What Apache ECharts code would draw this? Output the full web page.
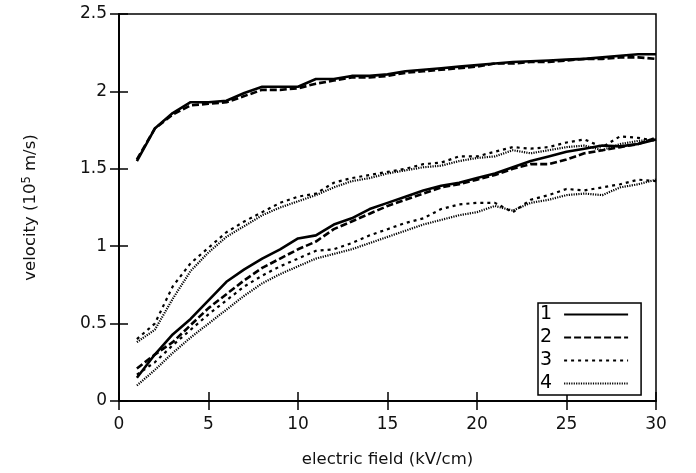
<!DOCTYPE html>
<html>
<head>
<meta charset="utf-8">
<script src="https://cdn.jsdelivr.net/npm/echarts@6/dist/echarts.min.js"></script>
<style>html,body{margin:0;padding:0;background:#fff}#c{width:696px;height:473px}</style>
</head>
<body>
<div id="c"></div>
<script>
var fieldX = [1,2,3,4,5,6,7,8,9,10,11,12,13,14,15,16,17,18,19,20,21,22,23,24,25,26,27,28,29,30];
var s1Upper = [1.55,1.76,1.86,1.93,1.93,1.94,1.99,2.03,2.03,2.03,2.08,2.08,2.10,2.10,2.11,2.13,2.14,2.15,2.16,2.17,2.18,2.19,2.195,2.20,2.205,2.21,2.22,2.23,2.24,2.24];
var s2Upper = [1.56,1.76,1.85,1.91,1.92,1.93,1.97,2.01,2.01,2.02,2.05,2.07,2.09,2.09,2.10,2.12,2.13,2.14,2.15,2.16,2.18,2.18,2.19,2.19,2.20,2.21,2.21,2.22,2.22,2.21];
var s1Lower = [0.15,0.30,0.43,0.53,0.65,0.77,0.85,0.92,0.98,1.05,1.07,1.14,1.18,1.24,1.28,1.32,1.36,1.39,1.41,1.44,1.47,1.51,1.55,1.58,1.61,1.63,1.65,1.645,1.66,1.69];
var s2Lower = [0.21,0.30,0.38,0.49,0.60,0.69,0.78,0.86,0.92,0.98,1.03,1.11,1.16,1.21,1.26,1.30,1.34,1.38,1.40,1.43,1.46,1.50,1.53,1.53,1.56,1.60,1.62,1.64,1.66,1.70];
var s3Upper = [0.40,0.50,0.74,0.89,0.99,1.09,1.16,1.22,1.28,1.32,1.34,1.41,1.44,1.46,1.48,1.50,1.53,1.54,1.58,1.58,1.61,1.64,1.63,1.64,1.67,1.69,1.64,1.71,1.70,1.68];
var s4Upper = [0.38,0.46,0.66,0.84,0.96,1.06,1.13,1.20,1.25,1.29,1.33,1.38,1.42,1.44,1.47,1.49,1.51,1.52,1.55,1.57,1.58,1.62,1.60,1.62,1.64,1.65,1.62,1.66,1.68,1.69];
var s3Lower = [0.17,0.25,0.36,0.46,0.56,0.65,0.74,0.81,0.87,0.92,0.97,0.98,1.02,1.07,1.11,1.15,1.18,1.24,1.27,1.28,1.28,1.22,1.30,1.33,1.37,1.36,1.38,1.40,1.43,1.42];
var s4Lower = [0.10,0.20,0.31,0.41,0.50,0.59,0.68,0.76,0.82,0.87,0.92,0.95,0.98,1.02,1.06,1.10,1.14,1.17,1.20,1.22,1.26,1.23,1.28,1.30,1.33,1.34,1.33,1.38,1.40,1.43];
var legendNames = ['1','2','3','4'];
var xTicks = {min:0, max:30, interval:5};
var yTicks = {min:0, max:2.5, interval:0.5};

function pairs(ys){ return fieldX.map(function(x,i){ return [x, ys[i]]; }); }
var styles = {
  '1': {type:'solid', width:2.6},
  '2': {type:[7,3], width:2.6},
  '3': {type:[3,4], width:2.2},
  '4': {type:[1.2,1.2], width:2.2}
};
function mk(name, ys){
  return {name:name, type:'line', data:pairs(ys), symbol:'none', showSymbol:false, smooth:false,
    lineStyle:{color:'#000', width:styles[name].width, type:styles[name].type},
    itemStyle:{color:'#000'}, animation:false, z: 3};
}
var font = '"DejaVu Sans", Verdana, sans-serif';
var chart = echarts.init(document.getElementById('c'), null, {renderer:'canvas'});
chart.setOption({
  backgroundColor:'#fff',
  animation:false,
  grid:{left:119, right:40, top:14, bottom:70, show:true, borderColor:'#000', borderWidth:1.5, backgroundColor:'transparent'},
  legend:{
    data:legendNames, orient:'vertical', left:538, top:303, align:'right',
    itemWidth:64, itemHeight:10, itemGap:4,
    borderColor:'#000', borderWidth:1.5, padding:[2,12,2,2],
    backgroundColor:'#fff',
    itemStyle:{opacity:0, borderWidth:0},
    textStyle:{fontFamily:font, fontSize:19, color:'#000', padding:[0,7,0,0]},
    inactiveColor:'#000'
  },
  xAxis:[{
    type:'value', min:xTicks.min, max:xTicks.max, interval:xTicks.interval, position:'bottom',
    name:'electric field (kV/cm)', nameLocation:'middle', nameGap:50,
    nameTextStyle:{fontFamily:font, fontSize:16.5, color:'#111'},
    axisLine:{show:true, lineStyle:{color:'#000', width:1.5}},
    axisTick:{show:true, inside:true, length:9, lineStyle:{color:'#000', width:1.5}},
    axisLabel:{fontFamily:font, fontSize:17, color:'#111', margin:15},
    splitLine:{show:false}
  },{
    type:'value', min:xTicks.min, max:xTicks.max, interval:xTicks.interval, position:'top',
    axisLine:{show:true, lineStyle:{color:'#000', width:1.5}},
    axisTick:{show:true, inside:true, length:9, lineStyle:{color:'#000', width:1.5}},
    axisLabel:{show:false}, splitLine:{show:false}
  }],
  yAxis:[{
    type:'value', min:yTicks.min, max:yTicks.max, interval:yTicks.interval, position:'left',
    name:'{a|velocity (10}{b|5}{a| m/s)}', nameLocation:'middle', nameGap:78,
    nameTextStyle:{fontFamily:font, fontSize:16.5, color:'#111',
      rich:{a:{fontFamily:font, fontSize:16.5, color:'#111'}, b:{fontFamily:font, fontSize:11.5, color:'#111', padding:[0,0,8,0]}}},
    axisLine:{show:true, lineStyle:{color:'#000', width:1.5}},
    axisTick:{show:true, inside:true, length:9, lineStyle:{color:'#000', width:1.5}},
    axisLabel:{fontFamily:font, fontSize:17, color:'#111', margin:12},
    splitLine:{show:false}
  },{
    type:'value', min:yTicks.min, max:yTicks.max, interval:yTicks.interval, position:'right',
    axisLine:{show:true, lineStyle:{color:'#000', width:1.5}},
    axisTick:{show:true, inside:true, length:9, lineStyle:{color:'#000', width:1.5}},
    axisLabel:{show:false}, splitLine:{show:false}
  }],
  series:[
    mk('1', s1Upper), mk('2', s2Upper),
    mk('3', s3Upper), mk('4', s4Upper),
    mk('1', s1Lower), mk('2', s2Lower),
    mk('3', s3Lower), mk('4', s4Lower)
  ]
});
</script>
</body>
</html>
